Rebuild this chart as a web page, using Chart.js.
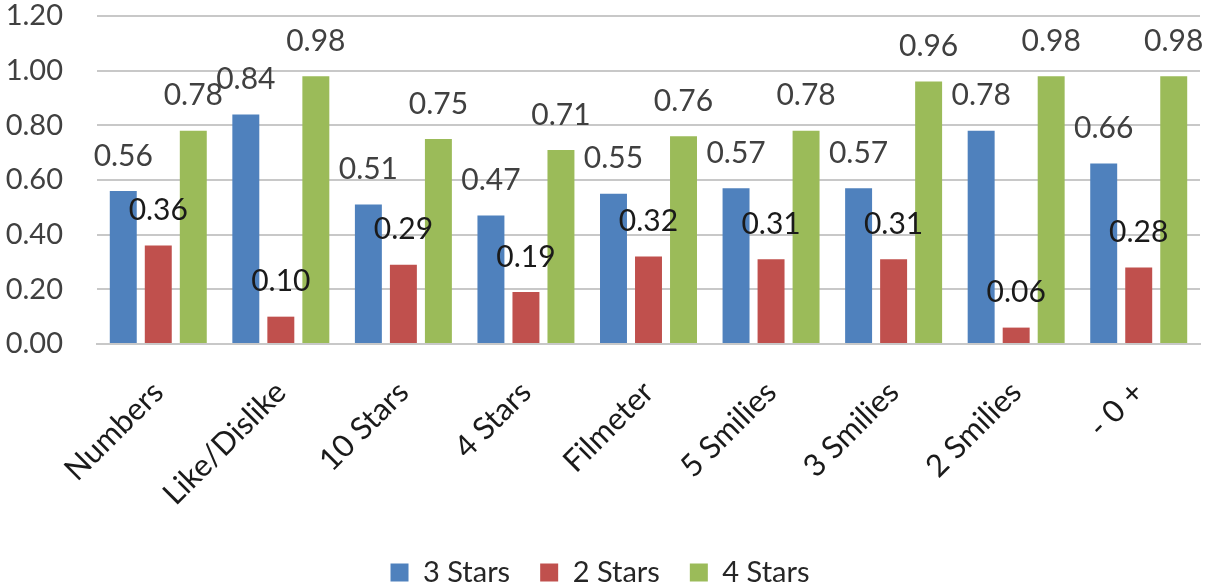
<!DOCTYPE html>
<html>
<head>
<meta charset="utf-8">
<script src="https://cdn.jsdelivr.net/npm/chart.js@4.4.1/dist/chart.umd.min.js"></script>
<style>
  html, body { margin: 0; padding: 0; background: #ffffff; }
  #wrap { width: 1208px; height: 586px; }
</style>
</head>
<body>
<div id="wrap"><canvas id="chart" width="1208" height="586"></canvas></div>
<script>
// Rating scales compared
const categories = ['Numbers', 'Like/Dislike', '10 Stars', '4 Stars', 'Filmeter', '5 Smilies', '3 Smilies', '2 Smilies', '- 0 +'];
const seriesNames = ['3 Stars', '2 Stars', '4 Stars'];
const threeStars = [0.56, 0.84, 0.51, 0.47, 0.55, 0.57, 0.57, 0.78, 0.66];
const twoStars   = [0.36, 0.10, 0.29, 0.19, 0.32, 0.31, 0.31, 0.06, 0.28];
const fourStars  = [0.78, 0.98, 0.75, 0.71, 0.76, 0.78, 0.96, 0.98, 0.98];
const yTicks = [0.00, 0.20, 0.40, 0.60, 0.80, 1.00, 1.20];

const FONT = 'Lato, "Open Sans", sans-serif';
const colors = ['#4F81BD', '#C0504D', '#9BBB59'];
const labelColors = ['#404040', '#1a1a1a', '#404040'];

// Draws each bar's value above its top
const valueLabels = {
  id: 'valueLabels',
  afterDatasetsDraw(chart) {
    const ctx = chart.ctx;
    ctx.save();
    ctx.font = '30px ' + FONT;
    ctx.textAlign = 'center';
    ctx.textBaseline = 'middle';
    chart.data.datasets.forEach((ds, i) => {
      const meta = chart.getDatasetMeta(i);
      ctx.fillStyle = labelColors[i];
      meta.data.forEach((bar, j) => {
        ctx.fillText(ds.data[j].toFixed(2), bar.x, bar.y - 35);
      });
    });
    ctx.restore();
  }
};

new Chart(document.getElementById('chart'), {
  type: 'bar',
  data: {
    labels: categories,
    datasets: [threeStars, twoStars, fourStars].map((d, i) => ({
      label: seriesNames[i],
      data: d,
      backgroundColor: colors[i],
      borderWidth: 0,
      categoryPercentage: 0.857,
      barPercentage: 0.77
    }))
  },
  options: {
    responsive: false,
    animation: false,
    layout: { padding: { top: 16, right: 8, left: 0, bottom: -11 } },
    plugins: {
      tooltip: { enabled: false },
      legend: {
        position: 'bottom',
        labels: {
          font: { family: FONT, size: 29, lineHeight: 1 },
          color: '#262626',
          boxWidth: 18,
          boxHeight: 18,
          padding: 30
        }
      }
    },
    scales: {
      x: {
        grid: { display: false },
        border: { display: true, color: '#c8c8c8', width: 2 },
        ticks: {
          font: { family: FONT, size: 31 },
          color: '#1a1a1a',
          maxRotation: 45,
          minRotation: 45,
          autoSkip: false,
          padding: 22
        },
        afterFit(scale) {
          scale.height = 184;
          scale.paddingLeft = 0;
          scale.paddingRight = 0;
        }
      },
      y: {
        min: 0,
        max: 1.2,
        afterBuildTicks(scale) { scale.ticks = yTicks.map(v => ({ value: v })); },
        grid: { color: '#c8c8c8', lineWidth: 2, drawTicks: false },
        border: { display: false },
        ticks: {
          font: { family: FONT, size: 29 },
          color: '#404040',
          padding: 34,
          callback: v => Number(v).toFixed(2)
        },
        afterFit(scale) {
          scale.width = 97;
          scale.paddingTop = 0;
          scale.paddingBottom = 0;
        }
      }
    }
  },
  plugins: [valueLabels]
});
</script>
</body>
</html>
